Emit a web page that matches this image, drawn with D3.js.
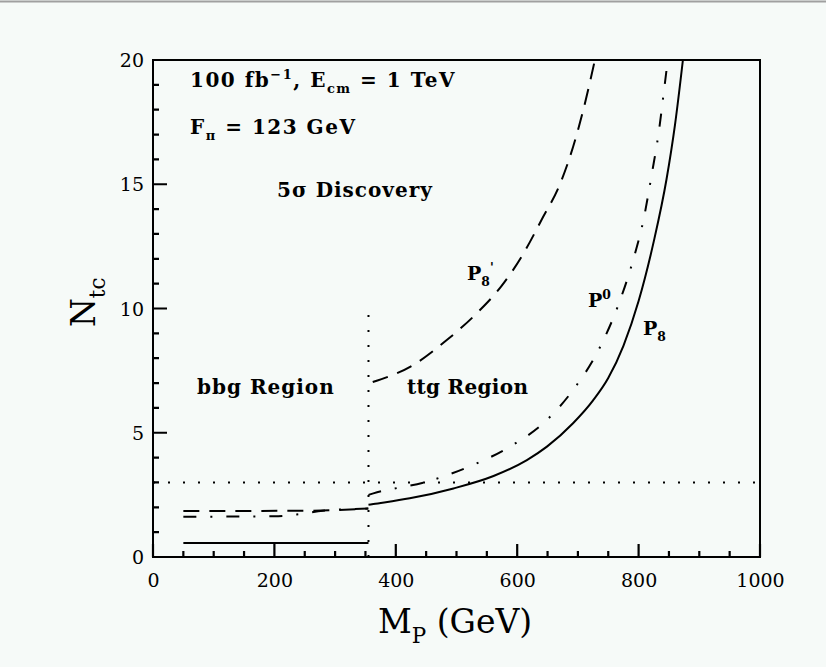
<!DOCTYPE html>
<html><head><meta charset="utf-8">
<script src="https://cdn.jsdelivr.net/npm/d3@7/dist/d3.min.js"></script>
<style>
html,body{margin:0;padding:0;background:#f6faf8;}
svg{display:block;}
</style></head>
<body>
<script>
// ---- data ----
const xMajorTicks = [0, 200, 400, 600, 800, 1000];
const yMajorTicks = [0, 5, 10, 15, 20];

// P8 (solid)
const p8BbgMass = [50, 355];
const p8BbgN    = [0.56, 0.56];
const p8TtgMass = [355, 363, 423, 495, 561, 616, 649, 692, 725, 750, 775, 800, 825, 846, 860, 873];
const p8TtgN    = [2.10, 2.13, 2.36, 2.76, 3.26, 3.90, 4.44, 5.38, 6.30, 7.20, 8.50, 10.3, 12.7, 15.2, 17.4, 20.0];

// P0 (dash-dot)
const p0BbgMass = [50, 200, 240, 280, 355];
const p0BbgN    = [1.62, 1.64, 1.72, 1.86, 1.95];
const p0TtgMass = [355, 363, 451, 517, 588, 643, 692, 734, 769, 791, 808, 822, 833, 842, 848];
const p0TtgN    = [2.50, 2.56, 3.03, 3.60, 4.44, 5.38, 6.72, 8.33, 10.3, 11.95, 13.56, 15.45, 17.06, 18.8, 20.0];

// P8' (dashed)
const p8pBbgMass = [50, 250, 355];
const p8pBbgN    = [1.85, 1.86, 1.95];
const p8pTtgMass = [362, 429, 484, 533, 574, 610, 640, 671, 692, 709, 728];
const p8pTtgN    = [7.04, 7.73, 8.73, 9.80, 10.9, 12.2, 13.56, 15.04, 16.5, 18.0, 20.0];

const discoveryLevel = 3;     // horizontal dotted
const regionBoundary = 355;   // vertical dotted, GeV
const regionBoundaryTop = 10;

// ---- setup ----
const W = 826, H = 667;
const svg = d3.select("body").append("svg").attr("width", W).attr("height", H);
svg.append("rect").attr("width", W).attr("height", H).attr("fill", "#f6faf8");
svg.append("line").attr("x1",0).attr("x2",W).attr("y1",1.5).attr("y2",1.5)
   .attr("stroke","#a0a0a0").attr("stroke-width",2);

const x = d3.scaleLinear().domain([0, 1000]).range([153, 760]);
const y = d3.scaleLinear().domain([0, 20]).range([557, 60]);

const FONT = "'DejaVu Serif', 'Liberation Serif', serif";

// frame
svg.append("rect").attr("x", x(0)).attr("y", y(20))
  .attr("width", x(1000)-x(0)).attr("height", y(0)-y(20))
  .attr("fill","none").attr("stroke","#000").attr("stroke-width",2);

// axes (labels via d3.axis)
const xMinor = d3.range(0, 1001, 50).filter(v => !xMajorTicks.includes(v));
const yMinor = d3.range(0, 21, 1).filter(v => !yMajorTicks.includes(v));

const gx = svg.append("g").attr("transform", `translate(0,${y(0)})`)
  .call(d3.axisBottom(x).tickValues(xMajorTicks).tickSize(0).tickPadding(0).tickFormat(d3.format("d")));
const gy = svg.append("g").attr("transform", `translate(${x(0)},0)`)
  .call(d3.axisLeft(y).tickValues(yMajorTicks).tickSize(0).tickPadding(0).tickFormat(d3.format("d")));
gx.select(".domain").remove();
gy.select(".domain").remove();
gx.selectAll(".tick line").remove();
gy.selectAll(".tick line").remove();
gx.selectAll(".tick text").attr("font-family", FONT).attr("font-size", 19)
  .attr("fill","#000").attr("dy", null).attr("y", 30);
gy.selectAll(".tick text").attr("font-family", FONT).attr("font-size", 19)
  .attr("fill","#000").attr("x", -9).attr("dy","0.35em");

// inward tick marks from the same scales
const xTickData = xMajorTicks.map(v => ({v, len: 13})).concat(xMinor.map(v => ({v, len: 6})));
const yTickData = yMajorTicks.map(v => ({v, len: 14})).concat(yMinor.map(v => ({v, len: 6})));
svg.append("path")
  .attr("d", xTickData.map(t => `M${x(t.v)},${y(0)}V${y(0) - t.len}`).join("")
            + yTickData.map(t => `M${x(0)},${y(t.v)}H${x(0) + t.len}`).join(""))
  .attr("fill", "none").attr("stroke", "#000").attr("stroke-width", 2.2);

// curves
const line = d3.line().x(d => x(d[0])).y(d => y(d[1])).curve(d3.curveMonotoneX);
const zip = (a, b) => a.map((v, i) => [v, b[i]]);

function draw(mass, n, dash) {
  svg.append("path").datum(zip(mass, n)).attr("d", line)
    .attr("fill","none").attr("stroke","#000").attr("stroke-width",2)
    .attr("stroke-dasharray", dash);
}
draw(p8BbgMass, p8BbgN, null);
draw(p8TtgMass, p8TtgN, null);
draw(p0BbgMass, p0BbgN, "13,14,2,14");
draw(p0TtgMass, p0TtgN, "13,14,2,14");
draw(p8pBbgMass, p8pBbgN, "16,10");
draw(p8pTtgMass, p8pTtgN, "16,10");

// dotted reference lines
svg.append("line").attr("x1", x(0)).attr("x2", x(1000))
  .attr("y1", y(discoveryLevel)).attr("y2", y(discoveryLevel))
  .attr("stroke","#000").attr("stroke-width",2).attr("stroke-dasharray","2,13");
svg.append("line").attr("x1", x(regionBoundary)).attr("x2", x(regionBoundary))
  .attr("y1", y(0)).attr("y2", y(regionBoundaryTop))
  .attr("stroke","#000").attr("stroke-width",2).attr("stroke-dasharray","2,13");

// text helper: parts = [[text, "n"|"sub"|"sup"], ...]
function rich(px, py, parts, size, weight, spacing, extra) {
  const t = svg.append("text").attr("x", px).attr("y", py)
    .attr("font-family", FONT).attr("font-size", size)
    .attr("font-weight", weight || "normal").attr("fill","#000")
    .attr("letter-spacing", spacing || 0);
  let shift = 0;
  parts.forEach(([s, k]) => {
    const target = k === "sub" ? size*0.3 : k === "sup" ? -size*0.4 : 0;
    const ts = t.append("tspan").text(s).attr("dy", target - shift);
    if (k !== "n") ts.attr("font-size", size*0.65);
    shift = target;
  });
  if (extra) extra(t);
  return t;
}

rich(190, 87, [["100 fb","n"],["−1","sup"],[", E","n"],["cm","sub"],[" = 1 TeV","n"]], 20, "bold", 1.5);
rich(190, 134, [["F","n"],["π","sub"],[" = 123 GeV","n"]], 20, "bold", 1.5);
rich(277, 197, [["5σ Discovery","n"]], 20, "bold", 1);
rich(467, 280, [["P","n"],["8","sub"],["'","sup"]], 19, "bold", 0);
rich(588, 307, [["P","n"],["0","sup"]], 19, "bold", 0);
rich(643, 335, [["P","n"],["8","sub"]], 19, "bold", 0);
rich(197, 394, [["bbg Region","n"]], 20, "bold", 1);
rich(407, 394, [["ttg Region","n"]], 20, "bold", 0.3);

// axis titles
rich(378, 633, [["M","n"],["P","sub"],[" (GeV)","n"]], 33, "normal", 0);
rich(95, 327, [["N","n"],["tc","sub"]], 33, "normal", 0,
  t => t.attr("transform", "rotate(-90,95,327)"));
</script>
</body></html>
